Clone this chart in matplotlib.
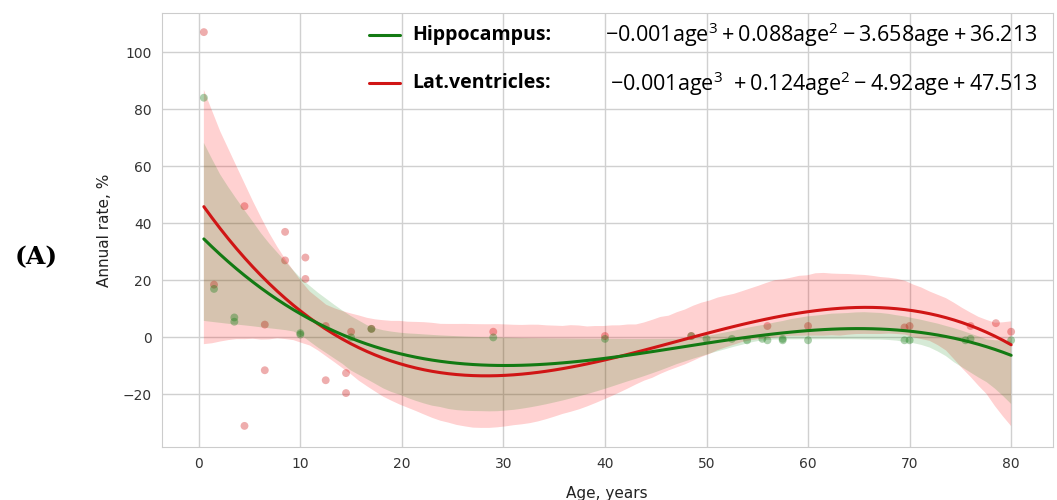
import numpy as np
import matplotlib
matplotlib.use("Agg")
import matplotlib.pyplot as plt
from matplotlib.collections import PolyCollection
import seaborn as sns

# scatter data
vent_age = [0.5, 1.5, 4.5, 4.5, 6.5, 6.5, 8.5, 8.5, 10.5, 10.5, 12.5, 12.5, 14.5, 14.5,
            15, 17, 29, 40, 48.5, 56, 60, 69.5, 70, 76, 78.5, 80]
vent_rate = [107, 18.5, 46, -31, 4.5, -11.5, 37, 27, 28, 20.5, -15, 4, -12.5, -19.5,
             2, 3, 2, 0.5, 0.5, 4, 4, 3.5, 4, 4, 5, 2]
hip_age = [0.5, 1.5, 3.5, 3.5, 10, 10, 15, 17, 29, 40, 48.5, 50, 52.5, 54, 55.5, 56,
           57.5, 57.5, 60, 69.5, 70, 75.5, 76, 80]
hip_rate = [84, 17, 7, 5.5, 1.5, 1, 0, 3, 0, -0.5, 0.5, -0.5, -0.5, -1, -0.5, -1,
            -1, -0.5, -1, -1, -1, -1, -0.5, -1]

hip_label = "Hippocampus:"
vent_label = "Lat.ventricles:"
hip_eq = r"$-0.001\mathrm{age}^3 + 0.088\mathrm{age}^2 - 3.658\mathrm{age} + 36.213$"
vent_eq = r"$-0.001\mathrm{age}^3\ + 0.124\mathrm{age}^2 - 4.92\mathrm{age} + 47.513$"

sns.set_style("whitegrid")
plt.rcParams["font.family"] = ["DejaVu Sans"]
plt.rcParams["mathtext.fontset"] = "custom"
plt.rcParams["mathtext.rm"] = "Open Sans"

GREEN = "#137a13"
RED = "#d01515"

fig = plt.figure(figsize=(10.57, 5.0), dpi=100)
ax = fig.add_axes([0.153, 0.106, 0.843, 0.868])

# ventricles first so the green band sits on top (gives the tan overlap)
for xs, ys, c, fc, a in [(vent_age, vent_rate, RED, "#ff0000", 0.18),
                         (hip_age, hip_rate, GREEN, "#008000", 0.16)]:
    n_before = len(ax.collections)
    sns.regplot(x=np.array(xs), y=np.array(ys), order=3, ax=ax, color=c, seed=3,
                scatter_kws=dict(s=32, alpha=0.35, edgecolors="none"),
                line_kws=dict(lw=2.2))
    for coll in ax.collections[n_before:]:
        if isinstance(coll, PolyCollection):
            coll.set_facecolor(fc)
            coll.set_alpha(a)
            coll.set_edgecolor("none")

ax.set_xlim(-3.65, 84.1)
ax.set_ylim(-38.4, 113.7)
ax.set_xticks(range(0, 81, 10))
ax.set_yticks(range(-20, 101, 20))
ax.tick_params(labelsize=10, colors="#333333")
for sp in ax.spines.values():
    sp.set_color("#cccccc")
ax.grid(color="#d0d0d0", lw=1)
ax.set_xlabel("Age, years", fontsize=11, color="#222222", labelpad=11)
ax.set_ylabel("Annual rate, %", fontsize=11, color="#222222", labelpad=8)

# legend rows
for yy, c, lab, eq in [(0.95, GREEN, hip_label, hip_eq), (0.838, RED, vent_label, vent_eq)]:
    ax.plot([0.233, 0.267], [yy, yy], transform=ax.transAxes, color=c, lw=2.2, clip_on=False)
    ax.text(0.281, yy, lab, transform=ax.transAxes, fontsize=14, fontweight="bold",
            family="Open Sans", va="center", ha="left", color="black")
    ax.text(0.983, yy, eq, transform=ax.transAxes, fontsize=15.5,
            va="center", ha="right", color="black")

fig.text(0.034, 0.485, "(A)", fontsize=18, fontweight="bold", family="DejaVu Serif",
         va="center", ha="center", color="black")

fig.savefig("out.png", dpi=100)
